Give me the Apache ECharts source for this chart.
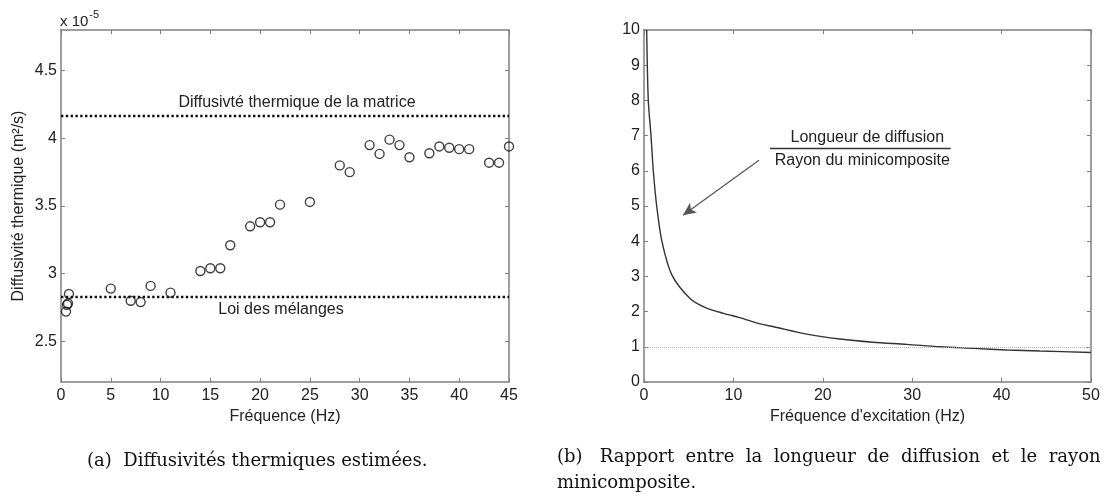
<!DOCTYPE html>
<html>
<head>
<meta charset="utf-8">
<script src="https://cdn.jsdelivr.net/npm/echarts@6/dist/echarts.min.js"></script>
<style>
html,body{margin:0;padding:0;background:#fff;}
#c{width:1106px;height:502px;}
</style>
</head>
<body>
<div id="c"></div>
<script>
// ---- Left panel: estimated thermal diffusivity (x 1e-5 m²/s) vs frequency (Hz)
const leftFreq = [0.5, 0.6, 0.7, 0.8, 5, 7, 8, 9, 11, 14, 15, 16, 17, 19, 20, 21, 22, 25, 28, 29, 31, 32, 33, 34, 35, 37, 38, 39, 40, 41, 43, 44, 45];
const leftDiff = [2.72, 2.77, 2.78, 2.85, 2.89, 2.80, 2.79, 2.91, 2.86, 3.02, 3.04, 3.04, 3.21, 3.35, 3.38, 3.38, 3.51, 3.53, 3.80, 3.75, 3.95, 3.885, 3.99, 3.95, 3.86, 3.89, 3.94, 3.93, 3.92, 3.92, 3.82, 3.82, 3.94];
const matrixDiff = 4.17;
const mixLawDiff = 2.83;
const leftYTicks = [2.5, 3, 3.5, 4, 4.5];

// ---- Right panel: diffusion length / minicomposite radius vs excitation frequency
const rightFreq  = [0.3, 0.48, 0.78, 1.04, 1.42, 2.0, 3.1, 5.15, 6.8, 8.9, 10.7, 13, 14.5, 18.2, 21.9, 25.6, 29.4, 33.1, 36.9, 40.6, 44.3, 50];
const rightRatio = [10, 8.0, 7.0, 6.0, 5.0, 4.0, 3.05, 2.37, 2.12, 1.95, 1.83, 1.65, 1.57, 1.36, 1.22, 1.13, 1.07, 1.0, 0.955, 0.91, 0.88, 0.84];
const refRatio = 1;
const arrowFrom = [12.86, 6.3];
const arrowTo = [4.36, 4.74];
const fracBar = [[14.1, 6.63], [34.3, 6.63]];

const SANS = 'Liberation Sans, Arial, sans-serif';
const SERIF = 'DejaVu Serif, serif';
const FS = 16;
const axisGray = '#7f7f7f';
const txt = '#222';

function mkX(grid, min, max, interval, pos, name) {
  return {
    gridIndex: grid, type: 'value', min: min, max: max, interval: interval, position: pos,
    axisLine: {show: true, onZero: false, lineStyle: {color: axisGray, width: 1.5}},
    axisTick: {show: true, inside: true, length: 4, lineStyle: {color: axisGray, width: 1}},
    axisLabel: {show: pos === 'bottom', color: txt, fontSize: FS, fontFamily: SANS, margin: 6},
    splitLine: {show: false},
    name: pos === 'bottom' ? name : '',
    nameLocation: 'middle', nameGap: 26,
    nameTextStyle: {color: txt, fontSize: FS, fontFamily: SANS}
  };
}
function mkY(grid, min, max, pos, extra) {
  const o = {
    gridIndex: grid, type: 'value', min: min, max: max, position: pos,
    axisLine: {show: true, onZero: false, lineStyle: {color: axisGray, width: 1.5}},
    axisTick: {show: true, inside: true, length: 4, lineStyle: {color: axisGray, width: 1}},
    axisLabel: {show: pos === 'left', color: txt, fontSize: FS, fontFamily: SANS, margin: 4},
    splitLine: {show: false}
  };
  return Object.assign(o, extra || {});
}

const chart = echarts.init(document.getElementById('c'), null, {renderer: 'canvas'});
const option = {
  animation: false,
  backgroundColor: '#fff',
  grid: [
    {left: 61, top: 30, width: 448, height: 352},
    {left: 644, top: 30, width: 447, height: 352}
  ],
  xAxis: [
    mkX(0, 0, 45, 5, 'bottom', 'Fréquence (Hz)'),
    mkX(0, 0, 45, 5, 'top', ''),
    mkX(1, 0, 50, 10, 'bottom', "Fréquence d'excitation (Hz)"),
    mkX(1, 0, 50, 10, 'top', '')
  ],
  yAxis: [
    mkY(0, 2.2, 4.8, 'left', {
      axisLabel: {show: true, color: txt, fontSize: FS, fontFamily: SANS, margin: 4, customValues: leftYTicks},
      axisTick: {show: true, inside: true, length: 4, lineStyle: {color: axisGray, width: 1}, customValues: leftYTicks},
      name: 'Diffusivité thermique (m²/s)', nameLocation: 'middle', nameGap: 34,
      nameTextStyle: {color: txt, fontSize: FS, fontFamily: SANS}
    }),
    mkY(0, 2.2, 4.8, 'right', {
      axisTick: {show: true, inside: true, length: 4, lineStyle: {color: axisGray, width: 1}, customValues: leftYTicks}
    }),
    mkY(1, 0, 10, 'left', {interval: 1}),
    mkY(1, 0, 10, 'right', {interval: 1})
  ],
  graphic: [
    {type: 'text', left: 60, top: 9, style: {
      text: '{a|x 10}{b|-5}', fill: txt,
      rich: {a: {fontSize: 15, fontFamily: SANS, fill: txt, verticalAlign: 'bottom'},
             b: {fontSize: 11, fontFamily: SANS, fill: txt, verticalAlign: 'top', padding: [0, 0, 9, 1]}}
    }},
    {type: 'text', left: 87, top: 448, style: {
      text: '(a)  Diffusivités thermiques estimées.', fill: '#111',
      fontSize: 18, fontFamily: SERIF, lineHeight: 26
    }},
    {type: 'text', left: 557, top: 444, style: {
      text: '(b)   Rapport  entre  la  longueur  de  diffusion  et  le  rayon  du\nminicomposite.', fill: '#111',
      fontSize: 18, fontFamily: SERIF, lineHeight: 26
    }}
  ],
  series: [
    {
      type: 'scatter', xAxisIndex: 0, yAxisIndex: 0,
      data: leftFreq.map((f, i) => [f, leftDiff[i]]),
      symbol: 'circle', symbolSize: 9,
      itemStyle: {color: 'rgba(255,255,255,0)', borderColor: '#111', borderWidth: 1.4},
      silent: true,
      markLine: {
        silent: true, symbol: ['none', 'none'],
        lineStyle: {color: '#111', type: 'dotted', width: 2.4},
        data: [
          {yAxis: matrixDiff, label: {show: true, position: 'insideMiddleTop', formatter: 'Diffusivté thermique de la matrice',
            color: txt, fontSize: FS, fontFamily: SANS, distance: 5, offset: [12, 0]}},
          {yAxis: mixLawDiff, label: {show: true, position: 'insideMiddleBottom', formatter: 'Loi des mélanges',
            color: txt, fontSize: FS, fontFamily: SANS, distance: 5, offset: [-4, 0]}}
        ]
      }
    },
    {
      type: 'line', xAxisIndex: 2, yAxisIndex: 2,
      data: rightFreq.map((f, i) => [f, rightRatio[i]]),
      showSymbol: false, smooth: 0.3, clip: true,
      lineStyle: {color: '#333', width: 1.4},
      silent: true,
      markLine: {
        silent: true, symbol: ['none', 'none'],
        data: [
          {yAxis: refRatio, lineStyle: {color: '#b0b0b0', type: 'dotted', width: 1}, label: {show: false}},
          [{coord: arrowFrom, symbol: 'none', lineStyle: {color: '#555', type: 'solid', width: 1.2}, label: {show: false}},
           {coord: arrowTo, symbol: 'arrow', symbolSize: [9, 13]}],
          [{coord: fracBar[0], lineStyle: {color: '#333', type: 'solid', width: 1.4},
            label: {show: true, position: 'insideMiddleTop', formatter: 'Longueur de diffusion', color: txt, fontSize: FS, fontFamily: SANS, distance: 3, offset: [7, 0]}},
           {coord: fracBar[1]}]
        ]
      }
    },
    {
      type: 'line', xAxisIndex: 2, yAxisIndex: 2, data: [], silent: true,
      markLine: {
        silent: true, symbol: ['none', 'none'],
        data: [
          [{coord: fracBar[0], lineStyle: {color: 'rgba(0,0,0,0)', width: 1},
            label: {show: true, position: 'insideMiddleBottom', formatter: 'Rayon du minicomposite', color: txt, fontSize: FS, fontFamily: SANS, distance: 4, offset: [2, 0]}},
           {coord: fracBar[1]}]
        ]
      }
    }
  ]
};
chart.setOption(option);
</script>
</body>
</html>
